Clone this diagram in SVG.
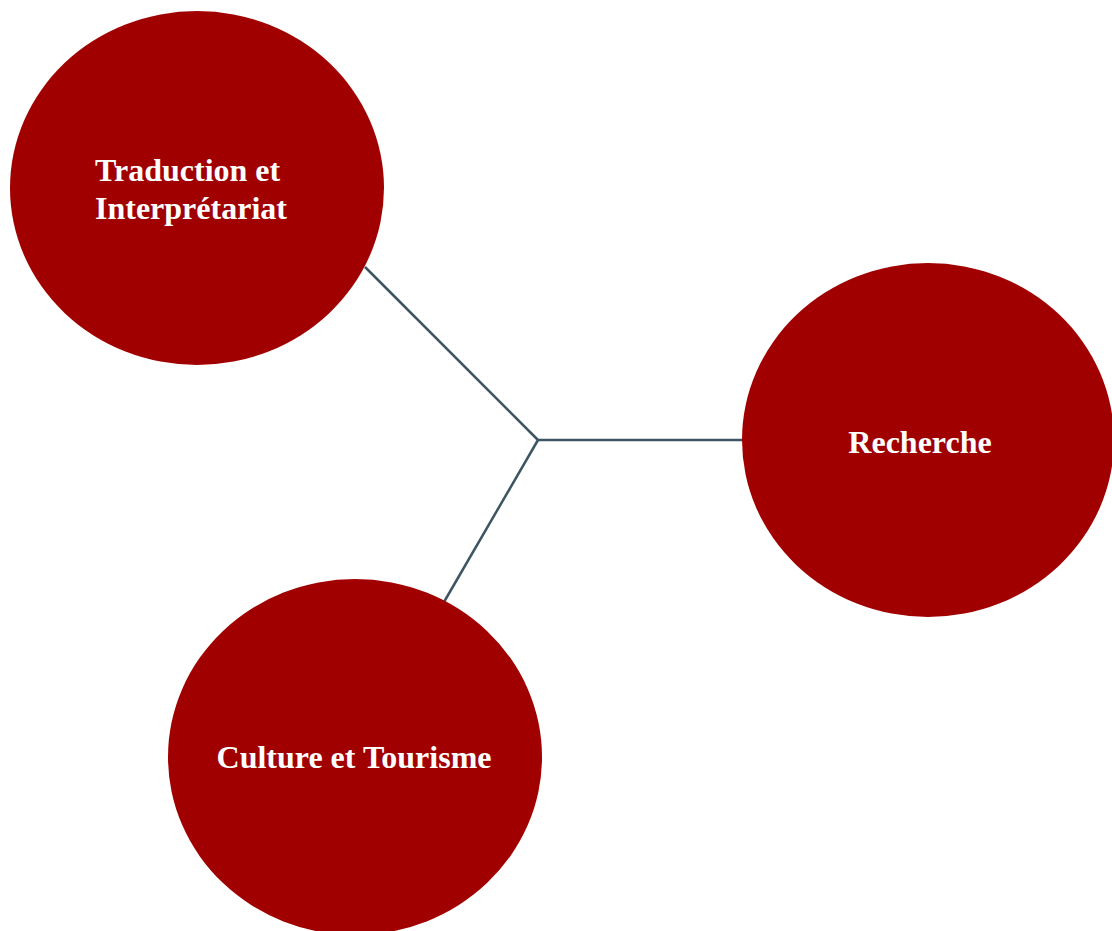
<svg xmlns="http://www.w3.org/2000/svg" width="1112" height="931" viewBox="0 0 1112 931">
<style>
.node{fill:#a10000;}
.lbl{font-family:"Liberation Serif","Times New Roman",serif;font-weight:bold;font-size:32px;fill:#ffffff;}
.conn{stroke:#3d5563;stroke-width:2.5;fill:none;}
</style>
<rect width="1112" height="931" fill="#ffffff"/>
<g id="connectors">
<line class="conn" x1="365" y1="267" x2="538" y2="440"/>
<line class="conn" x1="538" y1="440" x2="745" y2="440"/>
<line class="conn" x1="538" y1="440" x2="444" y2="602"/>
</g>
<g id="node-traduction">
<ellipse class="node" cx="197" cy="188" rx="187" ry="177"/>
<text class="lbl" x="95" y="181">Traduction et</text>
<text class="lbl" x="95" y="219">Interprétariat</text>
</g>
<g id="node-recherche">
<ellipse class="node" cx="928" cy="440" rx="186" ry="177"/>
<text class="lbl" x="920" y="453" text-anchor="middle">Recherche</text>
</g>
<g id="node-culture">
<ellipse class="node" cx="355" cy="757" rx="187" ry="178"/>
<text class="lbl" x="354" y="768" text-anchor="middle">Culture et Tourisme</text>
</g>
</svg>
